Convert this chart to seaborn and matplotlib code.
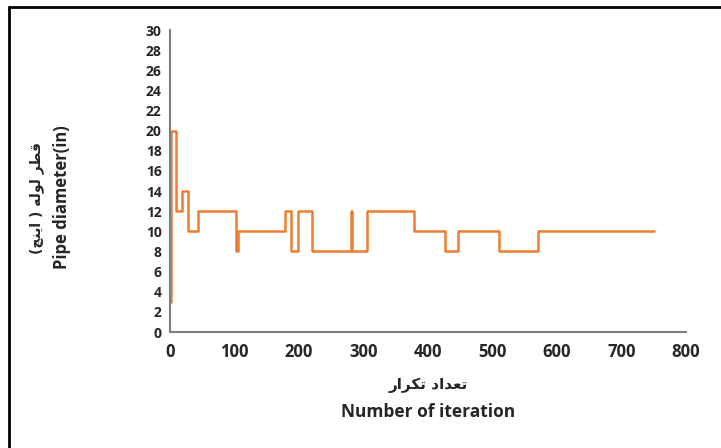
import seaborn as sns
import pandas as pd
import matplotlib.pyplot as plt
from matplotlib.lines import Line2D

# step points of the pipe diameter history
iteration = [0, 1, 10, 18, 28, 44, 102, 105, 179, 187, 199, 220, 280, 282, 306, 378, 427, 446, 510, 571, 750]
diameter = [3, 20, 12, 14, 10, 12, 8, 10, 12, 8, 12, 8, 12, 8, 12, 10, 8, 10, 8, 10, 10]
x_ticks = [0, 100, 200, 300, 400, 500, 600, 700, 800]
y_ticks = list(range(0, 31, 2))

# Persian labels written in visual order with presentation forms
fa_xlabel = "\uFEAD\uFE8D\uFEAE\uFB91\uFE97 \uFEA9\uFE8D\uFEAA\uFECC\uFE97"
fa_ylabel = "(\uFB7B\uFEE8\uFBFE\uFE8D ) \uFEEA\uFEDF\uFEEE\uFEDF \uFEAE\uFEC4\uFED7"

sns.set_style("white")
plt.rcParams['font.family'] = ['Open Sans', 'DejaVu Sans']
plt.rcParams['font.weight'] = 'bold'

df = pd.DataFrame({"iteration": iteration, "diameter": diameter})

fig = plt.figure(figsize=(7.21, 4.48), dpi=100)
ax = fig.add_axes([170 / 721, 1 - 332 / 448, 516 / 721, 302 / 448])
sns.lineplot(data=df, x="iteration", y="diameter", ax=ax, color="#ED7D31",
             linewidth=1.8, drawstyle="steps-post", estimator=None, sort=False)

ax.set_xlim(0, 800)
ax.set_ylim(0, 30)
ax.set_xticks(x_ticks)
ax.set_yticks(y_ticks)
ax.set_xlabel("")
ax.set_ylabel("")
ax.tick_params(axis="x", direction="in", length=4, width=1, color="#7f7f7f", labelsize=12, pad=8)
ax.tick_params(axis="y", direction="in", length=4, width=1, color="#7f7f7f", labelsize=10, pad=6)
for lab in ax.get_xticklabels() + ax.get_yticklabels():
    lab.set_fontweight("bold")
sns.despine(ax=ax)
for s in ["left", "bottom"]:
    ax.spines[s].set_color("#7f7f7f")
    ax.spines[s].set_linewidth(1.5)

fig.text(428 / 721, 1 - 385 / 448, fa_xlabel, ha="center", va="center", fontsize=11,
         fontweight="bold", family=['DejaVu Sans'])
fig.text(428 / 721, 1 - 412 / 448, "Number of iteration", ha="center", va="center",
         fontsize=12.5, fontweight="bold")
fig.text(37 / 721, 1 - 198 / 448, fa_ylabel, ha="center", va="center", rotation=90,
         fontsize=10, fontweight="bold", family=['DejaVu Sans'])
fig.text(62 / 721, 1 - 197 / 448, "Pipe diameter(in)", ha="center", va="center", rotation=90,
         fontsize=12, fontweight="bold")

# frame lines of the original picture
fig.add_artist(Line2D([9 / 721, 1], [1 - 7 / 448, 1 - 7 / 448], transform=fig.transFigure,
                      color="black", linewidth=2))
fig.add_artist(Line2D([9 / 721, 9 / 721], [0, 1 - 7 / 448], transform=fig.transFigure,
                      color="black", linewidth=2))

fig.savefig("out.png", dpi=100)
